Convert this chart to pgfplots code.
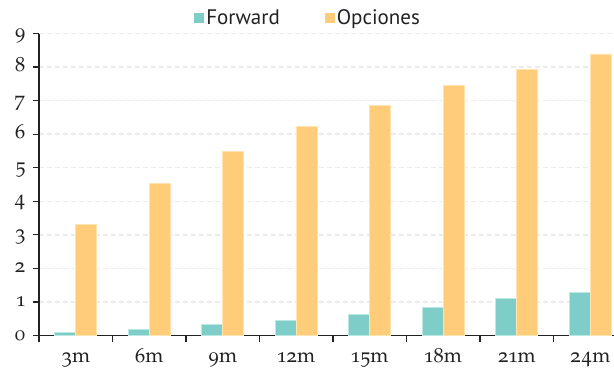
\documentclass[border=0pt]{standalone}
\usepackage{fontspec}
\setmainfont{texgyrepagella-regular.otf}[Numbers=OldStyle]
\newfontfamily\legfont{PT Sans}
\usepackage{pgfplots}
\pgfplotsset{compat=1.18}

\definecolor{tealc}{RGB}{126,205,200}
\definecolor{tealedge}{RGB}{186,232,228}
\definecolor{orangec}{RGB}{255,204,122}
\definecolor{orangeedge}{RGB}{255,228,178}
\definecolor{axisc}{RGB}{34,34,34}
\definecolor{gridc}{RGB}{236,236,236}

\begin{document}
\begin{tikzpicture}
\begin{axis}[
  at={(0pt,0pt)}, anchor=south west,
  scale only axis, width=575pt, height=302pt,
  xmin=-0.5, xmax=7.323, ymin=0, ymax=9,
  axis x line*=bottom, axis y line*=left,
  axis line style={line width=1.8pt, color=axisc},
  ybar, bar width=21pt,
  xtick={0,...,7},
  xticklabels={3m,6m,9m,12m,15m,18m,21m,24m},
  minor xtick={-0.5,0.5,...,6.5},
  ytick={0,...,9},
  yticklabels={\textrm{0},\textrm{1},\textrm{2},\textrm{3},\textrm{4},
    \textrm{5},\textrm{6},\textrm{7},\textrm{8},\textrm{9}},
  tick align=outside,
  major tick length=6pt, minor tick length=6pt,
  every major x tick/.append style={draw=none},
  tick style={line width=1.2pt, color=axisc},
  ymajorgrids,
  grid style={color=gridc, line width=1.5pt, dash pattern=on 5pt off 3pt},
  ticklabel style={font=\fontsize{20.5}{24}\selectfont, text=axisc},
  xticklabel style={text height=14pt, text depth=0pt, inner sep=0pt, yshift=-6.5pt},
  yticklabel style={text height=9pt, text depth=0pt, xshift=-4pt},
  /pgf/number format/assume math mode=true,
  legend columns=2,
  legend style={at={(0.468,1.053)}, anchor=center, draw=none, fill=none,
    font=\legfont\fontsize{21}{24}\selectfont, text=axisc,
    /tikz/every even column/.append style={column sep=43pt}},
  legend image code/.code={\fill[#1, draw=none] (-3pt,-5pt) rectangle (7pt,5pt);},
]
\addplot[fill=tealc, draw=tealedge, line width=0.8pt, bar shift=-10.5pt]
  coordinates {(0,0.09) (1,0.18) (2,0.32) (3,0.44) (4,0.62) (5,0.84) (6,1.11) (7,1.28)};
\addlegendentry{Forward}
\addplot[fill=orangec, draw=orangeedge, line width=0.8pt, bar shift=10.5pt]
  coordinates {(0,3.32) (1,4.53) (2,5.48) (3,6.24) (4,6.86) (5,7.44) (6,7.94) (7,8.39)};
\addlegendentry{Opciones}
\end{axis}
\pgfresetboundingbox
\path[use as bounding box] (-39pt,-32.5pt) rectangle (575pt,335.5pt);
\end{tikzpicture}
\end{document}
